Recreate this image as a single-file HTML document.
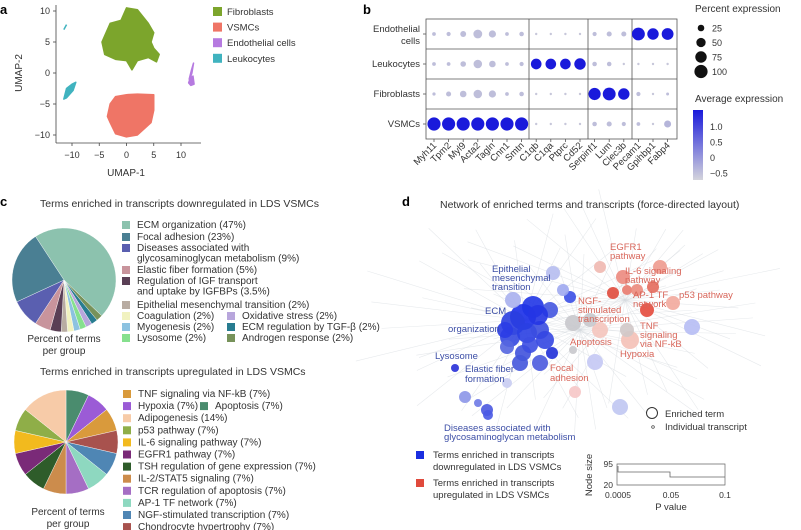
<!DOCTYPE html>
<html><head><meta charset="utf-8"><style>
html,body{margin:0;padding:0;background:#fff;}
svg{display:block;font-family:"Liberation Sans",sans-serif;}
</style></head><body>
<svg id="fig" width="801" height="530" viewBox="0 0 801 530">
<g id="pa">
<text x="0" y="14" font-size="13" font-weight="bold">a</text>
<line x1="56" y1="5" x2="56" y2="143" stroke="#444" stroke-width="0.8"/>
<line x1="56" y1="143" x2="201" y2="143" stroke="#444" stroke-width="0.8"/>
<text x="126" y="176" font-size="10" text-anchor="middle" fill="#333">UMAP-1</text>
<text transform="translate(22,73) rotate(-90)" font-size="10" text-anchor="middle" fill="#333">UMAP-2</text>
</g>
<g id="pb">
<text x="363" y="14" font-size="13" font-weight="bold">b</text>
<text x="695" y="12" font-size="10" fill="#333">Percent expression</text>
<text x="695" y="102" font-size="10" fill="#333">Average expression</text>
<defs><linearGradient id="cg" x1="0" y1="0" x2="0" y2="1"><stop offset="0" stop-color="#1a1adb"/><stop offset="1" stop-color="#d4d4dc"/></linearGradient></defs>
<rect x="693" y="110" width="10" height="70" fill="url(#cg)"/>
</g>
<g id="pc">
<text x="0" y="206" font-size="13" font-weight="bold">c</text>
<text x="40" y="207" font-size="10.5" fill="#333">Terms enriched in transcripts downregulated in LDS VSMCs</text>
<text x="40" y="375" font-size="10.5" fill="#333">Terms enriched in transcripts upregulated in LDS VSMCs</text>
<text x="64" y="342" font-size="10" text-anchor="middle" fill="#333">Percent of terms</text>
<text x="64" y="354" font-size="10" text-anchor="middle" fill="#333">per group</text>
<text x="68" y="515" font-size="10" text-anchor="middle" fill="#333">Percent of terms</text>
<text x="68" y="527" font-size="10" text-anchor="middle" fill="#333">per group</text>
</g>
<g id="pd">
<text x="402" y="206" font-size="13" font-weight="bold">d</text>
<text x="440" y="208" font-size="10.5" fill="#333">Network of enriched terms and transcripts (force-directed layout)</text>
</g>
</svg>
<script>
const NS='http://www.w3.org/2000/svg';
function mk(tag,attrs,parent,txt){const e=document.createElementNS(NS,tag);for(const k in attrs)e.setAttribute(k,attrs[k]);if(txt!==undefined)e.textContent=txt;parent.appendChild(e);return e;}

// ---- panel a data ----
const umapXTicks=[-10,-5,0,5,10];
const umapYTicks=[10,5,0,-5,-10];
const fibroOutline=[[-4,6],[-3,8],[-1,8.5],[0,10.5],[2,10.2],[4,8],[5,6.5],[4.5,5],[5,4],[6,3],[5.5,1.8],[4,2.5],[2,2],[1,0.5],[0,2],[-2,2.2],[-4,3],[-4.5,5]];
const vsmcOutline=[[-3,-5],[-2,-3.8],[0,-3.5],[2,-3.4],[5,-3.5],[5,-6],[4.5,-8],[2,-10],[0,-10.3],[-2,-9.8],[-3,-8],[-3.5,-7]];
const leukoOutline=[[-11.5,-4.2],[-11,-2.5],[-10,-1.8],[-9.3,-1.5],[-9.8,-2.8],[-11,-4]];
const endoOutline=[[11.5,-1],[12.2,-0.5],[12.4,-1.8],[11.8,-2],[11.4,-1.6],[12,0],[12.3,1.6],[11.9,0.4]];
const umapLegend=['Fibroblasts','VSMCs','Endothelial cells','Leukocytes'];
const umapColors=['#7ca52c','#ef7566','#b67ae0','#40b3bf'];
const ux=v=>126.5+v*5.45, uy=v=>73-v*6.2;
const pa=document.getElementById('pa');
umapXTicks.forEach(t=>{const l=mk('line',{x1:ux(t),y1:143,x2:ux(t),y2:146,stroke:'#444','stroke-width':0.8},pa);
 const tx=mk('text',{x:ux(t),y:158,'font-size':9,'text-anchor':'middle',fill:'#333'},pa,String(t).replace('-','−'));});
umapYTicks.forEach(t=>{const l=mk('line',{x1:53,y1:uy(t),x2:56,y2:uy(t),stroke:'#444','stroke-width':0.8},pa);
 const tx=mk('text',{x:50,y:uy(t)+3,'font-size':9,'text-anchor':'end',fill:'#333'},pa,String(t).replace('-','−'));});
[[fibroOutline,0,'fibroblast-cluster'],[vsmcOutline,1,'vsmc-cluster'],[leukoOutline,3,'leukocyte-cluster'],[endoOutline,2,'endothelial-cluster']].forEach(([o,c,n])=>{
 const p=mk('polygon',{points:o.map(d=>ux(d[0])+','+uy(d[1])).join(' '),fill:umapColors[c],stroke:umapColors[c],'stroke-width':1.5,'stroke-linejoin':'round'},pa);
 });
const tinyLeu=mk('line',{x1:ux(-11.5),y1:uy(7),x2:ux(-11),y2:uy(7.8),stroke:umapColors[3],'stroke-width':1.5},pa);

umapLegend.forEach((n,i)=>{const y=12+i*15.6;const r=mk('rect',{x:213,y:y-5,width:9,height:9,fill:umapColors[i]},pa);
 const t=mk('text',{x:227,y:y+3,'font-size':9.5,fill:'#333'},pa,n);});

// ---- panel b data ----
const genes=['Myh11','Tpm2','Myl9','Acta2','Tagln','Cnn1','Smtn','C1qb','C1qa','Ptprc','Cd52','Serpinf1','Lum','Clec3b','Pecam1','Gpihbp1','Fabp4'];
const cellTypes=['Endothelial cells','Leukocytes','Fibroblasts','VSMCs'];
const pctEndo=[8,10,20,45,30,8,12,3,3,3,3,10,15,15,95,75,80];
const pctLeuk=[8,8,18,42,25,8,10,65,65,65,75,12,12,3,3,3,3];
const pctFibro=[6,15,25,42,30,8,12,3,3,3,3,85,95,75,10,3,5];
const pctVsmc=[100,100,100,100,100,100,100,3,3,3,3,12,15,10,8,3,28];
const avgEndo=[-0.5,-0.5,-0.5,-0.5,-0.5,-0.5,-0.5,-0.6,-0.6,-0.6,-0.6,-0.5,-0.5,-0.5,1.3,1.3,1.3];
const avgLeuk=[-0.5,-0.5,-0.5,-0.5,-0.5,-0.5,-0.5,1.3,1.3,1.3,1.3,-0.5,-0.5,-0.6,-0.6,-0.6,-0.6];
const avgFibro=[-0.5,-0.5,-0.5,-0.5,-0.5,-0.5,-0.5,-0.6,-0.6,-0.6,-0.6,1.3,1.3,1.3,-0.5,-0.6,-0.5];
const avgVsmc=[1.3,1.3,1.3,1.3,1.3,1.3,1.3,-0.6,-0.6,-0.6,-0.6,-0.5,-0.5,-0.5,-0.5,-0.6,-0.4];
const sizeLegend=[25,50,75,100];
const colorTicks=[1.0,0.5,0,-0.5];
const pb=document.getElementById('pb');
const bx=i=>434+i*14.6, by=i=>34+i*30, br=p=>Math.sqrt(p/100)*6.6;
function bcol(v){const t=Math.max(0,Math.min(1,(v+0.7)/2.0));const a=[208,208,218],b=[26,26,219];return 'rgb('+a.map((c,k)=>Math.round(c+(b[k]-c)*t)).join(',')+')';}
const fr=mk('rect',{x:426,y:19,width:251,height:120,fill:'none',stroke:'#555','stroke-width':0.8},pb);
[529,588,632].forEach(x=>{const l=mk('line',{x1:x,y1:19,x2:x,y2:139,stroke:'#555','stroke-width':0.8},pb);});
[49,79,109].forEach(y=>{const l=mk('line',{x1:426,y1:y,x2:677,y2:y,stroke:'#555','stroke-width':0.8},pb);});
const pcts=[pctEndo,pctLeuk,pctFibro,pctVsmc], avgs=[avgEndo,avgLeuk,avgFibro,avgVsmc];
cellTypes.forEach((c,r)=>{
 const tk=mk('line',{x1:423,y1:by(r),x2:426,y2:by(r),stroke:'#555','stroke-width':0.8},pb);
 if(r===0){const t1=mk('text',{x:420,y:by(r)-2,'font-size':9.5,'text-anchor':'end',fill:'#333'},pb,'Endothelial');
  const t2=mk('text',{x:420,y:by(r)+10,'font-size':9.5,'text-anchor':'end',fill:'#333'},pb,'cells');}
 else{const t=mk('text',{x:420,y:by(r)+3,'font-size':9.5,'text-anchor':'end',fill:'#333'},pb,c);}
 genes.forEach((g,i)=>{const d=mk('circle',{cx:bx(i),cy:by(r),r:Math.max(1.2,br(pcts[r][i])),fill:bcol(avgs[r][i])},pb);});
});
genes.forEach((g,i)=>{const tk=mk('line',{x1:bx(i),y1:139,x2:bx(i),y2:142,stroke:'#555','stroke-width':0.8},pb);
 const t=mk('text',{transform:'translate('+(bx(i)+3)+',146) rotate(-45)','font-size':9.5,'text-anchor':'end',fill:'#333'},pb,g);});
sizeLegend.forEach((s,i)=>{const y=28+i*14.5;const c=mk('circle',{cx:701,cy:y,r:br(s),fill:'#111'},pb);
 const t=mk('text',{x:712,y:y+3.5,'font-size':9,fill:'#333'},pb,String(s));});
colorTicks.forEach(v=>{const y=158-v*31;const t=mk('text',{x:710,y:y+3,'font-size':9,fill:'#333'},pb,(v===0?'0':v.toFixed(1)).replace('-','−'));});

// ---- panel c data ----
const downLabels=['ECM organization (47%)','Focal adhesion (23%)','Diseases associated with glycosaminoglycan metabolism (9%)','Elastic fiber formation (5%)','Regulation of IGF transport and uptake by IGFBPs (3.5%)','Epithelial mesenchymal transition (2%)','Coagulation (2%)','Myogenesis (2%)','Lysosome (2%)','Oxidative stress (2%)','ECM regulation by TGF-β (2%)','Androgen response (2%)'];
const downValues=[47,23,9,5,3.5,2,2,2,2,2,2,2];
const downColors=['#8cc2ae','#4a7f93','#5a5fb0','#c8949c','#5a3f55','#b8aca2','#f1f2c0','#8cc2e0','#86e08e','#b8a6dc','#287c90','#77925a'];
const downOrderCW=[0,11,10,9,8,7,6,5,4,3,2,1];
const upLabels=['TNF signaling via NF-kB (7%)','Hypoxia (7%)','Apoptosis (7%)','Adipogenesis (14%)','p53 pathway (7%)','IL-6 signaling pathway (7%)','EGFR1 pathway (7%)','TSH regulation of gene expression (7%)','IL-2/STAT5 signaling (7%)','TCR regulation of apoptosis (7%)','AP-1 TF network (7%)','NGF-stimulated transcription (7%)','Chondrocyte hypertrophy (7%)'];
const upValues=[7,7,7,14,7,7,7,7,7,7,7,7,7];
const upColors=['#d99a3c','#9b5bd6','#4a8c6e','#f7cba8','#8fae48','#f2ba1e','#7a2a78','#2e5c2a','#cc8c4c','#a56ec4','#8ed8c0','#4f86b4','#a8524e'];
const upOrderCW=[2,1,0,12,11,10,9,8,7,6,5,4,3];
const pc=document.getElementById('pc');
function pie(cx,cy,r,vals,cols,order,start,name){let a=start;const tot=vals.reduce((s,v)=>s+v,0);
 order.forEach(i=>{const sw=vals[i]/tot*2*Math.PI;const a2=a+sw;
  const x1=cx+r*Math.sin(a),y1=cy-r*Math.cos(a),x2=cx+r*Math.sin(a2),y2=cy-r*Math.cos(a2);
  const p=mk('path',{d:`M${cx},${cy}L${x1},${y1}A${r},${r} 0 ${sw>Math.PI?1:0} 1 ${x2},${y2}Z`,fill:cols[i],stroke:'#fff','stroke-width':0.4},pc);
  a=a2;});}
pie(64,280,52,downValues,downColors,downOrderCW,-0.58,'down-pie');
pie(66,442,52,upValues,upColors,upOrderCW,0,'up-pie');
const downRows=[[0,122,228],[1,122,240],[2,122,251],[3,122,273],[4,122,284],[5,122,308],[6,122,319],[7,122,330],[8,122,341],[9,227,319],[10,227,330],[11,227,341]];
function legendItem(x,y,col,lines){const r=mk('rect',{x:x,y:y-7,width:8,height:8,fill:col},pc);
 lines.forEach((ln,k)=>{const t=mk('text',{x:x+15,y:y+k*10.5,'font-size':10,fill:'#333'},pc,ln);});}
downRows.forEach(([i,x,y])=>{let lines=[downLabels[i]];
 if(i===2)lines=['Diseases associated with','glycosaminoglycan metabolism (9%)'];
 if(i===4)lines=['Regulation of IGF transport','and uptake by IGFBPs (3.5%)'];
 legendItem(x,y,downColors[i],lines);});
let uy2=397;
upLabels.forEach((l,i)=>{if(i===2){legendItem(200,397+12.1,upColors[i],[l]);return;}
 legendItem(123,uy2,upColors[i],[l]);uy2+=12.1;});

// ---- panel d data ----
const nodeX=[523,513,533,510,527,540,550,553,513,523,540,520,507,552,570,563,455,465,478,487,488,507,595,620,692,600,613,627,623,647,660,673,637,630,600,575,653,573,590,573,627,538,505,545,530];
const nodeY=[317,323,307,337,333,330,310,273,300,353,363,363,347,353,297,290,368,397,403,410,415,383,362,407,327,267,293,290,277,310,267,303,290,340,330,392,287,323,320,350,330,315,330,340,345];
const nodeR=[13,12,11,10,10,9,8,7,8,8,8,8,7,6,6,6,4,6,4,6,5,5,8,8,8,6,6,5,7,7,7,7,6,9,8,6,6,8,7,4,7,10,8,9,8];
const nodeCol=['#1a2ee8','#2a3ee0','#2035e6','#3448e0','#2a3fe2','#3b4ee0','#4456e0','#b6bcf0','#a9b0ee','#4052dc','#4a5ade','#4457dc','#5566e0','#2030d8','#3a4ee6','#9ea8f0','#2830d8','#8c96e8','#6e7ae6','#4a58e0','#4a5ae4','#c8ccf2','#c4c8f4','#c0c6f2','#b6bcf4','#f0b8b0','#e04a3c','#e87a6e','#ec8a7e','#e44a3c','#ee9a8e','#f2a89c','#ec8a7c','#f4c0b6','#f4c4bc','#f6c6c6','#e46a5c','#c8c8cc','#c8c8cc','#c8c8cc','#d0c8c8','#2535e4','#2a3ce6','#3446e2','#3c4ee2'];
const edgeAngles=[10,25,40,55,70,85,100,115,130,145,160,175,190,205,220,235,250,265,280,295,310,325,340,355,18,62,108,152,198,242,288,332];
const edgeLens=[120,140,110,150,130,100,135,125,140,110,150,120,130,145,115,140,120,100,135,140,115,130,125,140,90,95,85,100,90,80,95,100];
const netLabelsBlue=[['Epithelial',492,272],['mesenchymal',492,281],['transition',492,290],['ECM',485,314],['organization',448,332],['Lysosome',435,359],['Elastic fiber',465,372],['formation',465,382],['Diseases associated with',444,431],['glycosaminoglycan metabolism',444,440]];
const netLabelsRed=[['EGFR1',610,250],['pathway',610,259],['IL-6 signaling',625,274],['pathway',625,283],['AP-1 TF',633,298],['network',633,307],['p53 pathway',679,298],['NGF-',578,304],['stimulated',578,313],['transcription',578,322],['TNF',640,329],['signaling',640,338],['via NF-kB',640,347],['Apoptosis',570,345],['Hypoxia',620,357],['Focal',550,371],['adhesion',550,381]];
const pvalTicks=['0.0005','0.05','0.1'];
const sizeTicks=['95','20'];
const pd=document.getElementById('pd');
const hubs=[[525,320],[625,300],[580,330]];
hubs.forEach((h,hi)=>{edgeAngles.forEach((a,i)=>{const L=edgeLens[(i+hi*7)%edgeLens.length];const rad=(a+hi*11)*Math.PI/180;
 const l=mk('line',{x1:h[0],y1:h[1],x2:h[0]+L*1.2*Math.cos(rad),y2:h[1]+L*0.8*Math.sin(rad),stroke:'#d3d8dd','stroke-width':0.6,opacity:0.55},pd);});});
nodeX.forEach((x,i)=>{const c=mk('circle',{cx:x,cy:nodeY[i],r:nodeR[i],fill:nodeCol[i],opacity:0.9},pd);});
netLabelsBlue.forEach(([t,x,y])=>{const e=mk('text',{x:x,y:y,'font-size':9.5,fill:'#3c4ea6'},pd,t);});
netLabelsRed.forEach(([t,x,y])=>{const e=mk('text',{x:x,y:y,'font-size':9.5,fill:'#d8665a'},pd,t);});
const lc=mk('circle',{cx:652,cy:413,r:5.5,fill:'#fff',stroke:'#333','stroke-width':1},pd);
const lt=mk('text',{x:665,y:417,'font-size':9.5,fill:'#333'},pd,'Enriched term');
const ld=mk('circle',{cx:653,cy:427,r:1.3,fill:'#fff',stroke:'#333','stroke-width':0.7},pd);
const lt2=mk('text',{x:665,y:430,'font-size':9.5,fill:'#333'},pd,'Individual transcript');
[['#1a2ee0',458,'Terms enriched in transcripts','downregulated in LDS VSMCs'],['#e04a3c',486,'Terms enriched in transcripts','upregulated in LDS VSMCs']].forEach(([c,y,a,b])=>{
 const r=mk('rect',{x:416,y:y-7,width:8,height:8,fill:c},pd);
 const t=mk('text',{x:433,y:y,'font-size':9.5,fill:'#333'},pd,a);
 const t2=mk('text',{x:433,y:y+12,'font-size':9.5,fill:'#333'},pd,b);});
const px=i=>[618,671,725][i];
const box=mk('path',{d:'M617,464H725V485H617Z',fill:'none',stroke:'#666','stroke-width':0.7},pd);
const step=mk('path',{d:'M618,466V472H670V477H725',fill:'none',stroke:'#666','stroke-width':0.8},pd);
pvalTicks.forEach((t,i)=>{const e=mk('text',{x:px(i),y:498,'font-size':8.5,'text-anchor':'middle',fill:'#333'},pd,t);});
sizeTicks.forEach((t,i)=>{const e=mk('text',{x:613,y:[467,488][i],'font-size':8.5,'text-anchor':'end',fill:'#333'},pd,t);});
const pt=mk('text',{x:671,y:510,'font-size':9.5,'text-anchor':'middle',fill:'#333'},pd,'P value');
const ns=mk('text',{transform:'translate(592,475) rotate(-90)','font-size':9.5,'text-anchor':'middle',fill:'#333'},pd,'Node size');
</script>
</body></html>
